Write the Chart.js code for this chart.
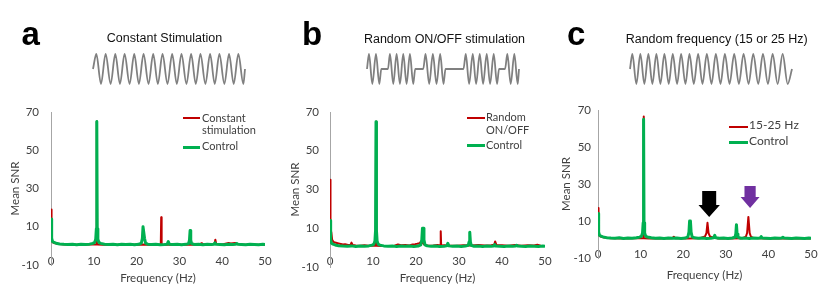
<!DOCTYPE html>
<html>
<head>
<meta charset="utf-8">
<script src="https://cdn.jsdelivr.net/npm/chart.js@4.4.0/dist/chart.umd.min.js"></script>
<style>
  html, body { margin: 0; padding: 0; background: #fff; }
  #page { position: relative; width: 836px; height: 295px; overflow: hidden; font-family: "Liberation Sans", Arial, sans-serif; }
  #page canvas { position: absolute; }
  .letter { position: absolute; font-weight: bold; font-size: 33px; line-height: 33px; color: #000; }
  .title { position: absolute; width: 240px; text-align: center; font-size: 12.5px; line-height: 12.5px; color: #111; white-space: nowrap; }
  .leg { position: absolute; font-family: Lato, sans-serif; font-size: 11px; line-height: 12.2px; color: #404040; white-space: nowrap; }
  .sw { position: absolute; }
</style>
</head>
<body>
<div id="page">
  <canvas id="plotA" width="836" height="295" style="left:0;top:0"></canvas>
  <canvas id="plotB" width="836" height="295" style="left:0;top:0"></canvas>
  <canvas id="plotC" width="836" height="295" style="left:0;top:0"></canvas>
  <canvas id="waveA" width="158" height="36" style="left:90px;top:51px"></canvas>
  <canvas id="waveB" width="158" height="36" style="left:364px;top:51px"></canvas>
  <canvas id="waveC" width="168" height="36" style="left:627px;top:51px"></canvas>

  <div class="letter" style="left:21.5px;top:17px">a</div>
  <div class="letter" style="left:302px;top:17px">b</div>
  <div class="letter" style="left:567px;top:17px">c</div>
  <div class="title" style="left:44.5px;top:32.1px">Constant Stimulation</div>
  <div class="title" style="left:324.5px;top:32.7px">Random ON/OFF stimulation</div>
  <div class="title" style="left:596.7px;top:33.1px">Random frequency (15 or 25 Hz)</div>

  <div class="sw" style="left:183px;top:117px;width:17px;height:2px;background:#c00000"></div>
  <div class="leg" style="left:202px;top:111.9px">Constant<br>stimulation</div>
  <div class="sw" style="left:183px;top:145.5px;width:17px;height:3px;background:#00b050"></div>
  <div class="leg" style="left:202px;top:140.3px">Control</div>

  <div class="sw" style="left:467px;top:117px;width:18px;height:2px;background:#c00000"></div>
  <div class="leg" style="left:486px;top:111.3px">Random<br>ON/OFF</div>
  <div class="sw" style="left:467px;top:144.2px;width:18px;height:3px;background:#00b050"></div>
  <div class="leg" style="left:486px;top:138.9px">Control</div>

  <div class="sw" style="left:729px;top:125.7px;width:19px;height:2px;background:#c00000"></div>
  <div class="leg" style="left:749px;top:119.3px;font-size:12px">15-25 Hz</div>
  <div class="sw" style="left:729px;top:141.2px;width:19px;height:3px;background:#00b050"></div>
  <div class="leg" style="left:749px;top:135.3px;font-size:12px">Control</div>
</div>
<script>
// axis ticks
const xTicks = [0, 10, 20, 30, 40, 50];
const yTicks = [-10, 10, 30, 50, 70];

// control recording, same trace in the three panels
const ctrlHz = [0, 0.1, 0.2, 0.35, 0.7, 1.2, 2, 3, 4, 5, 6, 7, 8, 9,
  9.8, 10.2, 10.45, 10.6, 10.7, 10.8, 10.95, 11.2, 11.6,
  12.5, 13.5, 14.5, 15.5, 16.5, 17.5, 18.5, 19.5, 20.5,
  21.1, 21.35, 21.5, 21.7, 21.85, 22.1, 22.6, 23.5, 24.5, 25.5, 26.5,
  27.15, 27.4, 27.65, 28.5, 29.5, 30.5, 31.5,
  32.15, 32.35, 32.5, 32.65, 32.85, 33.5, 34.5, 35.5, 36.5, 37.5,
  38.05, 38.3, 38.55, 39.5, 40.5, 41.5, 42.5, 43.15, 43.4, 43.65,
  44.5, 45.5, 46.5, 47.5, 48.5, 49.5, 50];
const ctrlSnr = [14, 8, 4, 2.3, 1.8, 1.4, 1.0, 0.8, 0.7, 0.9, 0.6, 0.8, 0.7, 0.9,
  1.3, 1.8, 3.5, 9, 65, 9, 3.5, 1.8, 1.3,
  0.9, 0.7, 0.8, 0.6, 0.8, 0.7, 0.8, 0.6, 0.8,
  1.4, 4, 10, 10, 4, 1.4, 0.9, 0.7, 0.8, 0.6, 0.7,
  0.9, 2.2, 0.9, 0.7, 0.8, 0.6, 0.8,
  1.2, 3, 8, 3, 1.2, 0.7, 0.8, 0.6, 0.8, 0.7,
  0.8, 1.6, 0.8, 0.7, 0.6, 0.8, 0.7, 0.8, 1.2, 0.8,
  0.7, 0.6, 0.8, 0.7, 0.6, 0.8, 0.7];

// a: constant stimulation
const constHz = [0, 0.08, 0.18, 0.35, 0.7, 1.5, 3, 6, 9, 10.62, 10.7, 10.78,
  12, 15, 18, 21, 24, 25.65, 25.75, 25.85, 27, 30, 33, 34.8, 35.2, 35.6,
  37, 38.2, 38.4, 38.6, 40, 41, 41.5, 42, 42.5, 43, 43.5, 45, 48, 50];
const constSnr = [19, 9, 4, 2, 1.5, 1.1, 0.7, 0.6, 0.7, 0.7, 65, 0.7,
  0.6, 0.6, 0.6, 0.7, 0.6, 0.7, 15, 0.7, 0.6, 0.6, 0.6, 0.8, 1.4, 0.8,
  0.6, 1.0, 3.2, 1.0, 0.7, 1.3, 1.5, 1.2, 1.4, 1.5, 1.0, 0.6, 0.6, 0.6];

// b: random ON/OFF
const onoffHz = [0, 0.08, 0.15, 0.3, 0.5, 0.8, 1.2, 1.6, 2.0, 2.5, 3.0, 3.5, 4.2, 4.8, 5.0, 5.3,
  6, 7, 8, 9, 10.62, 10.7, 10.78, 12, 13.5, 15, 15.8, 16.5, 17.5, 18.5, 19.2, 19.8,
  20.3, 20.8, 21.2, 22, 23, 24, 25, 25.65, 25.75, 25.85, 26.6, 28, 29.5, 31, 33,
  34.5, 36, 37.5, 38.2, 38.4, 38.7, 40, 41.5, 43, 44.5, 46, 47.5, 48.2, 49, 50];
const onoffSnr = [35, 20, 9, 8, 4, 3, 2.6, 2.4, 2.2, 1.9, 1.6, 1.8, 1.4, 1.5, 2.6, 1.3,
  1.1, 1.0, 1.2, 1.0, 1.0, 65, 1.0, 0.9, 0.8, 1.0, 1.6, 1.2, 1.4, 1.1, 1.6, 1.8,
  2.0, 2.3, 3.2, 1.4, 1.0, 1.1, 1.3, 1.1, 8.5, 1.1, 1.2, 1.0, 1.0, 1.2, 1.1,
  1.3, 1.1, 1.2, 1.5, 3.2, 1.4, 1.2, 1.0, 1.3, 1.0, 1.2, 1.1, 1.5, 1.0, 0.9];

// c: random frequency 15-25 Hz
const randHz = [0, 0.08, 0.18, 0.35, 0.7, 1.5, 3, 6, 9, 10.62, 10.7, 10.78,
  12, 15, 17.4, 17.8, 18.2, 21, 24, 24.6, 25.1, 25.45, 25.7, 25.95, 26.3, 26.8,
  28, 31, 34, 34.7, 35.0, 35.3, 35.6, 35.9, 36.5, 39, 43, 47, 50];
const randSnr = [17, 8, 4, 2, 1.5, 1.1, 0.7, 0.6, 0.7, 0.7, 66.5, 0.7,
  0.6, 0.6, 0.7, 1.5, 0.7, 0.6, 0.7, 1.3, 1.6, 3.5, 9, 3.5, 1.6, 1.3,
  0.6, 0.6, 0.7, 1.5, 3.5, 12.2, 3.5, 1.5, 0.8, 0.6, 0.6, 0.6, 0.6];

// stimulation sketches (time, amplitude)
const waveAt = [15, 25, 39, 53, 68, 82, 96, 110, 125, 139, 153, 167, 182, 196, 210, 224, 239,
  253, 267, 281, 296, 310, 324, 338, 353, 367, 381, 395, 410, 424, 438, 452, 467, 472];
const waveAv = [0, 1, -1, 1, -1, 1, -1, 1, -1, 1, -1, 1, -1, 1, -1, 1, -1,
  1, -1, 1, -1, 1, -1, 1, -1, 1, -1, 1, -1, 1, -1, 1, -1, 0];
const waveBt = [15, 21, 31, 42, 52, 58, 78, 84, 94, 104, 114, 124, 134, 144, 154, 160,
  184, 191, 202, 213, 224, 235, 245, 251, 305, 312, 322, 333, 343, 354, 364, 375, 385,
  396, 406, 412, 430, 437, 447, 458, 468, 472];
const waveBv = [0, 1, -1, 1, -1, 0, 0, 1, -1, 1, -1, 1, -1, 1, -1, 0,
  0, 1, -1, 1, -1, 1, -1, 0, 0, 1, -1, 1, -1, 1, -1, 1, -1,
  1, -1, 0, 0, 1, -1, 1, -1, 0];
const waveCt = [15, 22, 34, 46, 58, 70, 82, 94, 106, 118, 131, 143, 156, 168, 181, 193, 206,
  219, 232, 245, 259, 272, 286, 299, 313, 327, 341, 355, 370, 384, 399, 413, 428, 442,
  457, 472, 487, 500];
const waveCv = [0, 1, -1, 1, -1, 1, -1, 1, -1, 1, -1, 1, -1, 1, -1, 1, -1,
  1, -1, 1, -1, 1, -1, 1, -1, 1, -1, 1, -1, 1, -1, 1, -1, 1,
  -1, 1, -1, 0];

// arrows over panel c (Hz, top SNR, tip SNR)
const arrowsC = [
  { hz: 26.1, top: 26.2, tip: 12.2, color: "#000000", shaft: 7, wing: 10.7, head: 0.46 },
  { hz: 35.7, top: 28.9, tip: 17.0, color: "#7030a0", shaft: 5.6, wing: 9.5, head: 0.5 },
];

const RED = "#c00000";
const GREEN = "#00b050";
const TEXT = "#404040";
const FONT = { family: "Lato, 'Liberation Sans', sans-serif", size: 11.5 };
const LH = FONT.size * 1.2;

const pts = (xs, ys) => xs.map((x, i) => ({ x, y: ys[i] }));

const arrowPlugin = {
  id: "arrows",
  afterDatasetsDraw(chart, args, opts) {
    const items = opts.items || [];
    const { ctx } = chart;
    const x = chart.scales.x, y = chart.scales.y;
    items.forEach((a) => {
      const cx = x.getPixelForValue(a.hz);
      const yTop = y.getPixelForValue(a.top);
      const yTip = y.getPixelForValue(a.tip);
      const yHead = yTip - (yTip - yTop) * a.head;
      ctx.save();
      ctx.fillStyle = a.color;
      ctx.beginPath();
      ctx.moveTo(cx - a.shaft, yTop);
      ctx.lineTo(cx + a.shaft, yTop);
      ctx.lineTo(cx + a.shaft, yHead);
      ctx.lineTo(cx + a.wing, yHead);
      ctx.lineTo(cx, yTip);
      ctx.lineTo(cx - a.wing, yHead);
      ctx.lineTo(cx - a.shaft, yHead);
      ctx.closePath();
      ctx.fill();
      ctx.restore();
    });
  },
};

function spectrum(id, box, hz, snr, arrows) {
  return new Chart(document.getElementById(id), {
    type: "line",
    data: {
      datasets: [
        { data: pts(ctrlHz, ctrlSnr), borderColor: GREEN, borderWidth: 3, borderJoinStyle: "round" },
        { data: pts(hz, snr), borderColor: RED, borderWidth: 2, borderJoinStyle: "round" },
      ],
    },
    plugins: [arrowPlugin],
    options: {
      responsive: false,
      animation: false,
      devicePixelRatio: 1,
      events: [],
      elements: { point: { radius: 0 }, line: { tension: 0 } },
      layout: {
        padding: {
          left: box.yTitleX - LH / 2,
          top: box.top,
          right: 836 - box.right,
          bottom: 295 - (box.xTitleY + LH / 2),
        },
      },
      plugins: {
        legend: { display: false },
        tooltip: { enabled: false },
        arrows: { items: arrows || [] },
      },
      scales: {
        x: {
          type: "linear",
          min: 0,
          max: 50,
          grid: { display: false, drawTicks: false },
          border: { display: false },
          afterBuildTicks: (s) => { s.ticks = xTicks.map((v) => ({ value: v })); },
          afterFit: (s) => { s.height = box.xTitleY + LH / 2 - box.bottom; },
          // labels sit a little above the -10 line, as in the original
          ticks: { font: FONT, color: TEXT, autoSkip: false, maxRotation: 0, mirror: true, padding: box.bottom - box.xLabelY - LH / 2 },
          title: { display: true, text: "Frequency (Hz)", font: FONT, color: TEXT, padding: 0 },
        },
        y: {
          type: "linear",
          min: -10,
          max: 70,
          grid: { display: false, drawTicks: false },
          border: { display: true, color: "#a6a6a6", width: 1 },
          afterBuildTicks: (s) => { s.ticks = yTicks.map((v) => ({ value: v })); },
          afterFit: (s) => { s.width = box.left - (box.yTitleX - LH / 2); },
          ticks: { font: FONT, color: TEXT, padding: box.yLabelGap },
          title: { display: true, text: "Mean SNR", font: FONT, color: TEXT, padding: 0 },
        },
      },
    },
  });
}

function sketch(id, ts, vs) {
  return new Chart(document.getElementById(id), {
    type: "line",
    data: {
      datasets: [{
        data: pts(ts, vs),
        borderColor: "#808080",
        borderWidth: 1.8,
        cubicInterpolationMode: "monotone",
        clip: false,
      }],
    },
    options: {
      responsive: false,
      animation: false,
      devicePixelRatio: 1,
      events: [],
      elements: { point: { radius: 0 } },
      layout: { padding: 3 },
      plugins: { legend: { display: false }, tooltip: { enabled: false } },
      scales: {
        x: { type: "linear", display: false, min: ts[0], max: ts[ts.length - 1] },
        y: { type: "linear", display: false, min: -1, max: 1 },
      },
    },
  });
}

spectrum("plotA", { left: 51, right: 265, top: 112, bottom: 265, yTitleX: 15, xTitleY: 278, xLabelY: 261, yLabelGap: 12 }, constHz, constSnr);
spectrum("plotB", { left: 330, right: 545, top: 112, bottom: 267, yTitleX: 295, xTitleY: 278, xLabelY: 261, yLabelGap: 11 }, onoffHz, onoffSnr);
spectrum("plotC", { left: 598, right: 811, top: 110, bottom: 258, yTitleX: 566, xTitleY: 275, xLabelY: 254, yLabelGap: 7 }, randHz, randSnr, arrowsC);

sketch("waveA", waveAt, waveAv);
sketch("waveB", waveBt, waveBv);
sketch("waveC", waveCt, waveCv);
</script>
</body>
</html>
